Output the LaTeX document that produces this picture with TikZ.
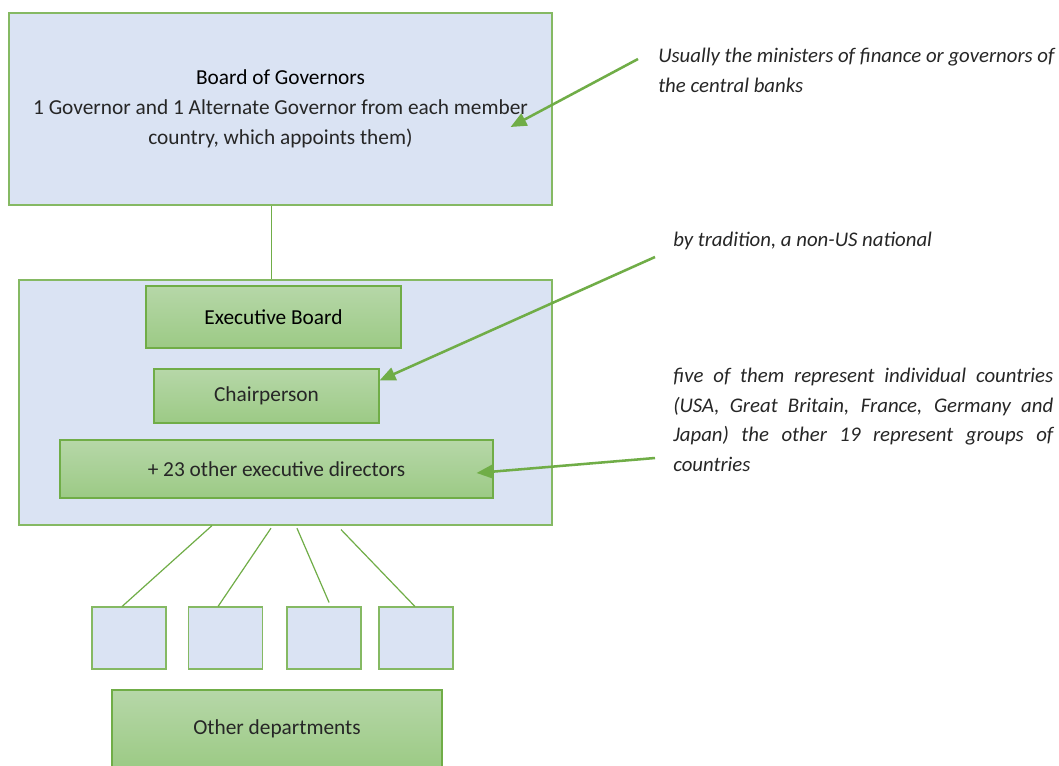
\documentclass[tikz,border=0pt]{standalone}
\usepackage{fontspec}
\setmainfont{Carlito}
\usetikzlibrary{arrows.meta}
\definecolor{paleblue}{HTML}{DAE3F3}
\definecolor{leafgreen}{HTML}{70AD47}
\definecolor{shadetop}{HTML}{B6D7A8}
\definecolor{shadebottom}{HTML}{9CCA85}
\newcommand{\boxfont}{\fontsize{16}{22.5}\selectfont\color{black!85}\ignorespaces}
\newcommand{\notefont}{\fontsize{15.6}{22.2}\selectfont\itshape\color{black!85}\hyphenpenalty=10000\ignorespaces}

\begin{document}
\begin{tikzpicture}[x=0.75pt, y=-0.75pt,
    bluebox/.style={draw=leafgreen!85, line width=0.8pt, fill=paleblue, align=center, inner sep=0pt},
    greenbox/.style={draw=leafgreen, line width=0.8pt, top color=shadetop, bottom color=shadebottom, inner sep=0pt, font=\boxfont},
    link/.style={draw=leafgreen, line width=0.9pt},
    pointer/.style={leafgreen, line width=1.9pt, -{Triangle[length=12pt, width=10pt]}},
    note/.style={inner sep=0pt, align=left, font=\notefont}]
    \path[use as bounding box, fill=white] (0,0) rectangle (1059,765);

    % top of the hierarchy
    \node[bluebox, minimum width=407.25pt, minimum height=144pt, font=\boxfont] (gov) at (280.5,109)
        {\color{black}Board of Governors\\
         1 Governor and 1 Alternate Governor from each member\\
         country, which appoints them)};

    % executive board and its members
    \node[bluebox, minimum width=399.75pt, minimum height=183.75pt] (exec) at (285.5,402.5) {};
    \node[greenbox, minimum width=191.25pt, minimum height=46.5pt] (board) at (273.5,317) {\color{black}Executive Board};
    \node[greenbox, minimum width=168.75pt, minimum height=40.5pt] (chair) at (266.5,396) {Chairperson};
    \node[greenbox, minimum width=324.75pt, minimum height=43.5pt] (dirs) at (276.5,469) {+ 23 other executive directors};

    % departments
    \node[bluebox, minimum width=55.5pt, minimum height=46.5pt] (dep1) at (129,638) {};
    \node[bluebox, minimum width=55.5pt, minimum height=46.5pt] (dep2) at (225.5,638) {};
    \node[bluebox, minimum width=55.5pt, minimum height=46.5pt] (dep3) at (324,638) {};
    \node[bluebox, minimum width=55.5pt, minimum height=46.5pt] (dep4) at (416,638) {};
    \node[greenbox, minimum width=247.5pt, minimum height=58.5pt] (other) at (277,729) {Other departments};

    % connecting lines
    \draw[link] ([xshift=-6.75pt]gov.south) -- ([xshift=-6.75pt]gov.south |- exec.north);
    \draw[link] ([xshift=-55.1pt]exec.south) -- ([xshift=-5.2pt]dep1.north);
    \draw[link] ([xshift=-10.9pt,yshift=-2pt]exec.south) -- ([xshift=-5.6pt]dep2.north);
    \draw[link] ([xshift=8.6pt,yshift=-2pt]exec.south) -- ([xshift=3.8pt,yshift=3pt]dep3.north);
    \draw[link] ([xshift=41.6pt,yshift=-3pt]exec.south) -- ([xshift=-0.8pt]dep4.north);

    % side notes
    \node[note, anchor=north west] (ministers) at (658,48)
        {Usually the ministers of finance or governors of\\the central banks};
    \node[note, anchor=north west] (tradition) at (673,232) {by tradition, a non-US national};
    \node[note, anchor=north west, text width=285pt, align=justify] (groups) at (673,368)
        {five of them represent individual countries (USA, Great Britain, France, Germany and Japan) the other 19 represent groups of countries};

    \coordinate (fromministers) at (638,59);
    \coordinate (fromtradition) at (655,257);
    \coordinate (fromgroups) at (655,458);
    \draw[pointer] (fromministers) -- ([xshift=-31.5pt,yshift=-13.5pt]gov.east);
    \draw[pointer] (fromtradition) -- ([yshift=-9pt]chair.north east);
    \draw[pointer] (fromgroups) -- ([xshift=-12.75pt,yshift=-3pt]dirs.east);
\end{tikzpicture}
\end{document}
